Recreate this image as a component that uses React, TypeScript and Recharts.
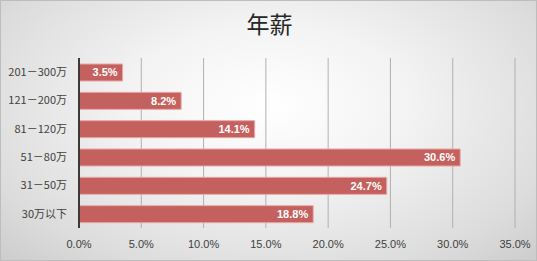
import React from 'react';
import { BarChart, Bar, XAxis, YAxis, CartesianGrid, LabelList } from 'recharts';

const categories = ['201－300万', '121－200万', '81－120万', '51－80万', '31－50万', '30万以下'];
const values = [3.5, 8.2, 14.1, 30.6, 24.7, 18.8];
const xTicks = [0, 5, 10, 15, 20, 25, 30, 35];
const title = '年薪';

const data = categories.map((c, i) => ({ name: c, value: values[i] }));

const fmt = (v: number) => v.toFixed(1) + '%';

export default function App() {
  return (
    <div
      style={{
        position: 'absolute',
        left: 0,
        top: 0,
        width: 537,
        height: 261,
        boxSizing: 'border-box',
        border: '1px solid #bdbdbd',
        background: 'radial-gradient(ellipse 75% 90% at 50% 40%, #ffffff 0%, #f3f3f3 35%, #dcdcdc 75%, #c8c8c8 100%)',
        fontFamily: '"Noto Sans CJK SC", "Noto Sans", sans-serif',
      }}
    >
      <div
        style={{
          position: 'absolute',
          left: 0,
          top: 6,
          width: 537,
          textAlign: 'center',
          fontSize: 23,
          color: '#262626',
          lineHeight: '32px',
        }}
      >
        {title}
      </div>
      <div style={{ position: 'absolute', left: -1, top: -1 }}>
        <BarChart
          width={537}
          height={261}
          data={data}
          layout="vertical"
          margin={{ top: 58, right: 22, bottom: 0, left: 0 }}
        >
          <CartesianGrid horizontal={false} vertical={true} stroke="#b0b0b0" />
          <XAxis
            type="number"
            domain={[0, 35]}
            ticks={xTicks}
            tickFormatter={fmt}
            axisLine={false}
            tickLine={false}
            height={33}
            tick={{ fill: '#404040', fontSize: 11, fontFamily: '"Liberation Sans", "Noto Sans", sans-serif' }}
            tickMargin={6}
          />
          <YAxis
            type="category"
            dataKey="name"
            width={79}
            axisLine={{ stroke: '#3a3a3a', strokeWidth: 2 }}
            tickLine={false}
            tick={{ fill: '#404040', fontSize: 11 }}
            tickMargin={6}
          />
          <Bar
            dataKey="value"
            fill="#c4605e"
            stroke="#e8a7a5"
            strokeWidth={1}
            barSize={17}
            isAnimationActive={false}
          >
            <LabelList
              dataKey="value"
              position="insideRight"
              formatter={(v: any) => fmt(Number(v))}
              fill="#ffffff"
              fontSize={11}
              fontWeight="bold"
              fontFamily='"Liberation Sans", "Noto Sans", sans-serif'
            />
          </Bar>
        </BarChart>
      </div>
    </div>
  );
}
